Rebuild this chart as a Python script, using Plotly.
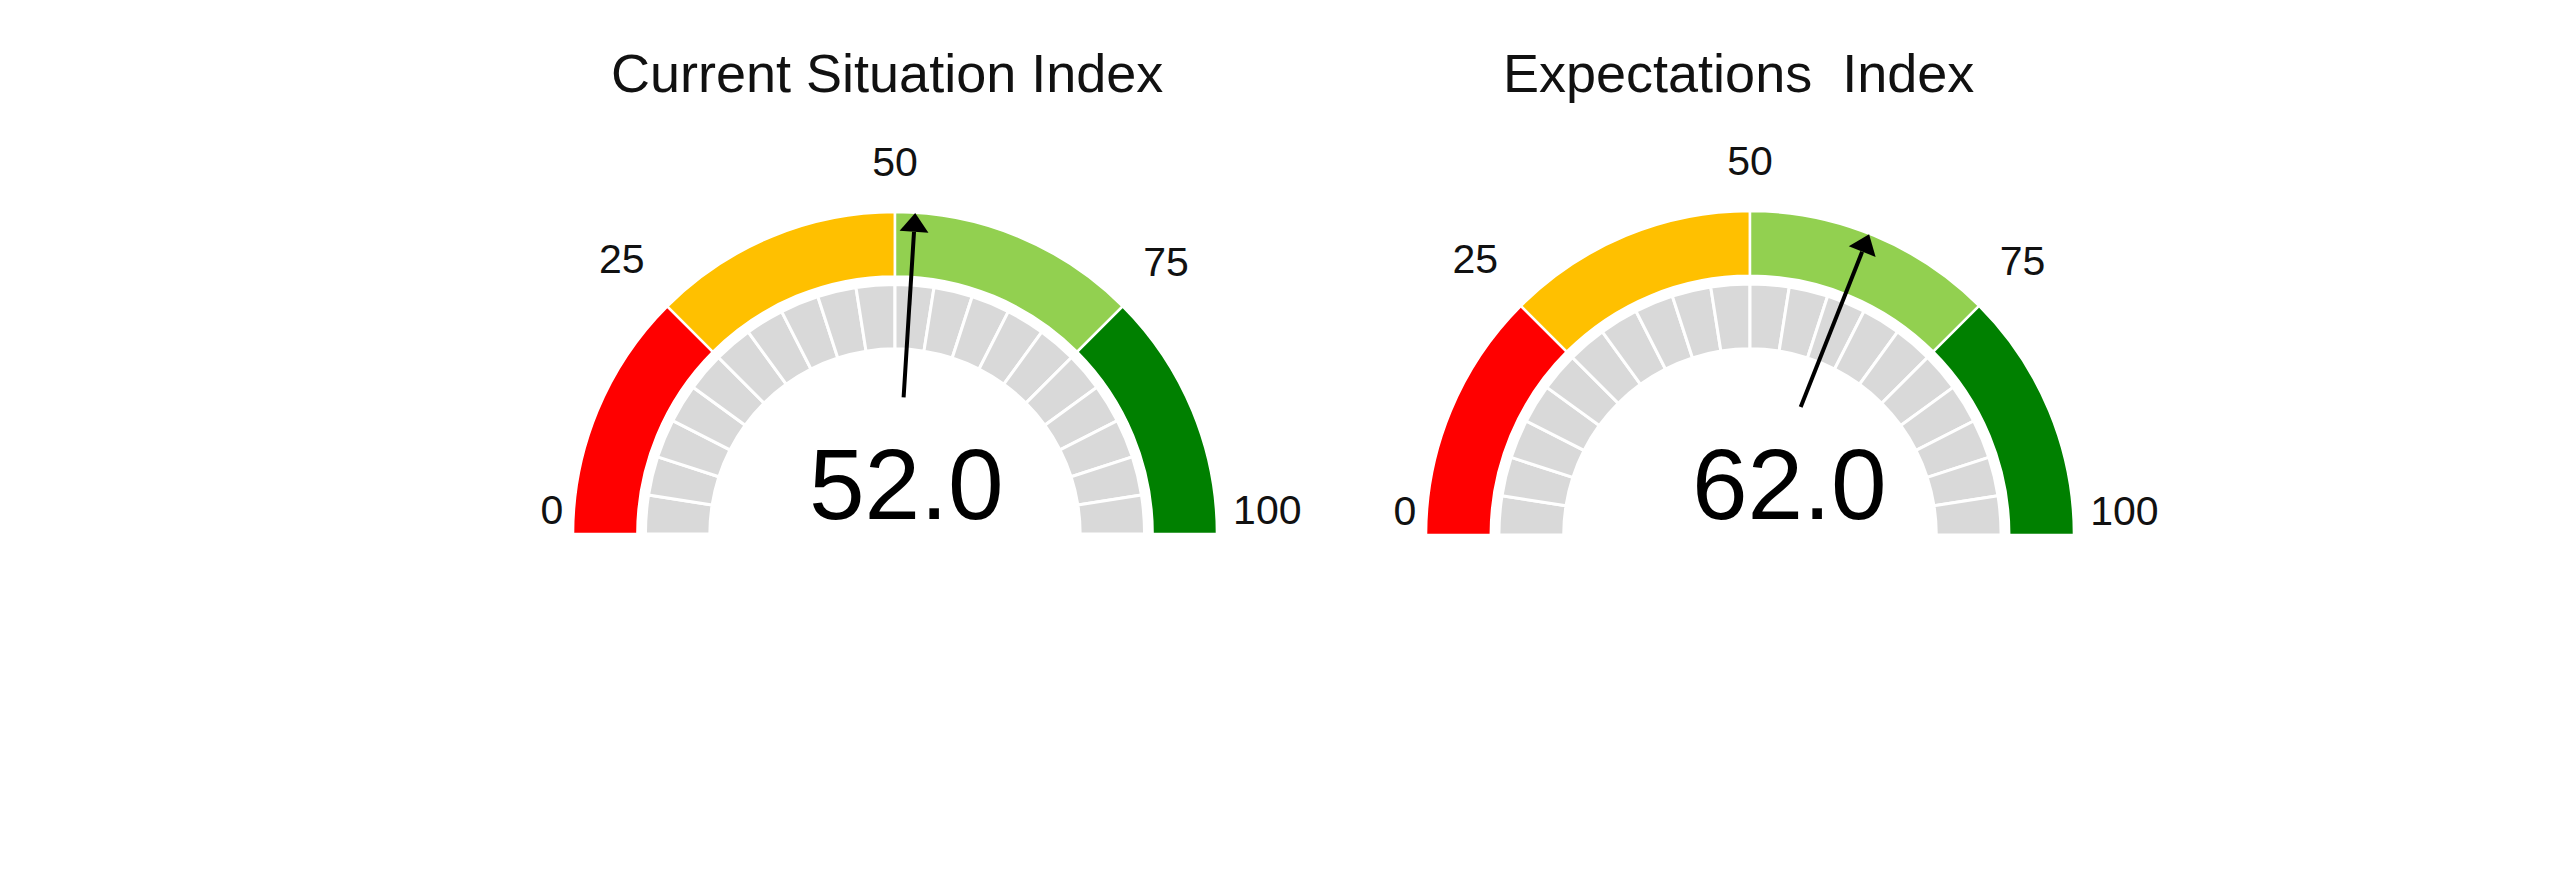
import plotly.graph_objects as go

# ---- data ----
titles = ["Current Situation Index", "Expectations\u00a0\u00a0Index"]
values = [52.0, 62.0]
band_edges = [0, 25, 50, 75, 100]
band_colors = ["#FF0000", "#FFC000", "#92D050", "#008000"]
tick_vals = [0, 25, 50, 75, 100]
tick_labels = ["0", "25", "50", "75", "100"]
segment_step = 5
gauge_max = 100

# ---- layout / style config (pixels in the 2560x869 window) ----
OFF = 8                      # default page margin of the html body
W, H = 2560 - 2 * OFF, 869 - 2 * OFF
RMAX = 1.25                  # radial room for tick labels
label_r = [1.03, 1.10, 1.08, 1.09, 1.05]
label_pos = ["top left", "top left", "top center", "top right", "top right"]
gauges = [
    dict(cx=895, base=534, R=322, title_x=887, num_x=906),
    dict(cx=1750, base=535, R=324, title_x=1738, num_x=1789),
]
FONT = "Arial, Liberation Sans, Helvetica, sans-serif"


def deg(v):
    return v * 180.0 / gauge_max


def px_x(x):
    return (x - OFF) / W


def px_y(y):
    return 1 - (y - OFF) / H


fig = go.Figure()
annotations = []
for i, (g, title, val) in enumerate(zip(gauges, titles, values)):
    pname = "polar" if i == 0 else f"polar{i + 1}"
    # colored outer band
    fig.add_trace(go.Barpolar(
        theta=[deg((a + b) / 2) for a, b in zip(band_edges[:-1], band_edges[1:])],
        width=[deg(b - a) for a, b in zip(band_edges[:-1], band_edges[1:])],
        r=[0.20] * len(band_colors), base=[0.80] * len(band_colors),
        marker=dict(color=band_colors, line=dict(color="white", width=2.5)),
        subplot=pname, showlegend=False, hoverinfo="skip"))
    # gray segmented inner band
    seg_lo = list(range(0, gauge_max, segment_step))
    fig.add_trace(go.Barpolar(
        theta=[deg(s + segment_step / 2) for s in seg_lo],
        width=[deg(segment_step)] * len(seg_lo),
        r=[0.20] * len(seg_lo), base=[0.575] * len(seg_lo),
        marker=dict(color="#D9D9D9", line=dict(color="white", width=3)),
        subplot=pname, showlegend=False, hoverinfo="skip"))
    # tick labels
    fig.add_trace(go.Scatterpolar(
        theta=[deg(t) for t in tick_vals], r=label_r, mode="text",
        text=tick_labels, textposition=label_pos, cliponaxis=False,
        textfont=dict(size=41, color="#111111", family=FONT),
        subplot=pname, showlegend=False, hoverinfo="skip"))
    # needle
    fig.add_trace(go.Scatterpolar(
        theta=[deg(val), deg(val)], r=[0.425, 0.94], mode="lines",
        line=dict(color="black", width=4),
        subplot=pname, showlegend=False, hoverinfo="skip"))
    fig.add_trace(go.Scatterpolar(
        theta=[deg(val)], r=[0.96], mode="markers", cliponaxis=False,
        marker=dict(symbol="triangle-up", size=25, color="black",
                    angle=deg(val) - 90, line=dict(width=0)),
        subplot=pname, showlegend=False, hoverinfo="skip"))

    Rp = g["R"] * RMAX
    fig.layout[pname] = dict(
        domain=dict(x=[px_x(g["cx"] - Rp), px_x(g["cx"] + Rp)],
                    y=[px_y(g["base"]), px_y(g["base"] - Rp)]),
        sector=[0, 180], hole=0, bgcolor="rgba(0,0,0,0)",
        radialaxis=dict(range=[0, RMAX], visible=False),
        angularaxis=dict(rotation=180, direction="clockwise", thetaunit="degrees",
                         visible=False, showgrid=False, showline=False,
                         showticklabels=False, ticks=""),
        barmode="overlay",
    )
    annotations.append(dict(text=title, x=px_x(g["title_x"]), y=px_y(73),
                            xref="paper", yref="paper", showarrow=False,
                            xanchor="center", yanchor="middle",
                            font=dict(size=54, color="#111111", family=FONT)))
    annotations.append(dict(text=f"{val:.1f}", x=px_x(g["num_x"]), y=px_y(484),
                            xref="paper", yref="paper", showarrow=False,
                            xanchor="center", yanchor="middle",
                            font=dict(size=100, color="black", family=FONT)))

fig.update_layout(width=W, height=H, margin=dict(l=0, r=0, t=0, b=0),
                  paper_bgcolor="white", plot_bgcolor="white",
                  annotations=annotations)
fig.write_html("out.html")
